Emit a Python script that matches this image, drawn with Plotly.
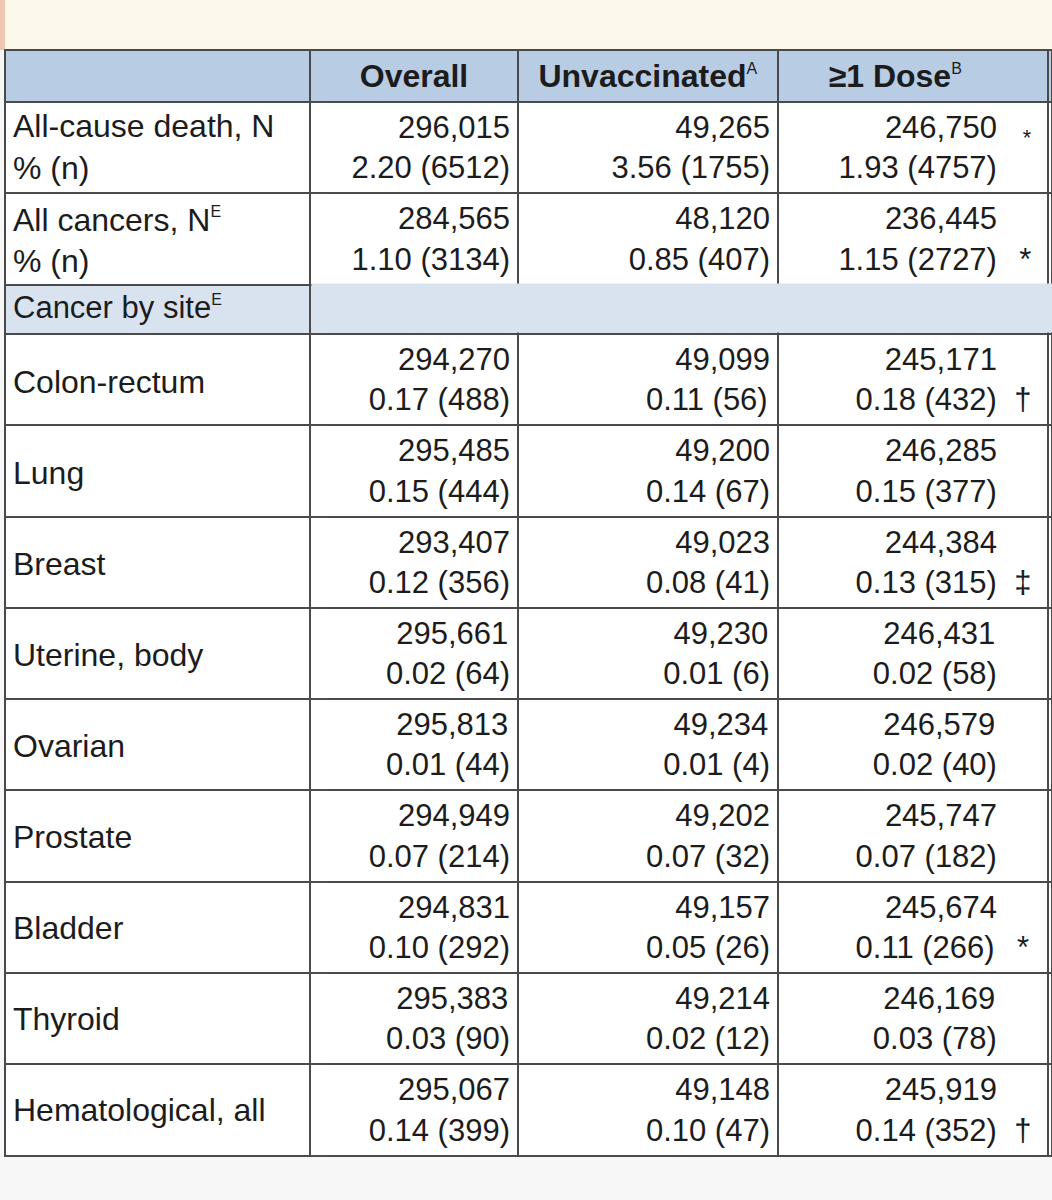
import plotly.graph_objects as go

columns = ["Overall", "Unvaccinated", "≥1 Dose"]
column_notes = ["", "A", "B"]

top_labels = ["All-cause death, N", "All cancers, N"]
top_label_notes = ["", "E"]
top_overall_N = [296015, 284565]
top_overall_pct = [2.20, 1.10]
top_overall_n = [6512, 3134]
top_unvax_N = [49265, 48120]
top_unvax_pct = [3.56, 0.85]
top_unvax_n = [1755, 407]
top_dose_N = [246750, 236445]
top_dose_pct = [1.93, 1.15]
top_dose_n = [4757, 2727]
top_marks_line1 = ["*", ""]
top_marks_line2 = ["", "*"]

section_label = "Cancer by site"
section_note = "E"

sites = ["Colon-rectum", "Lung", "Breast", "Uterine, body", "Ovarian",
         "Prostate", "Bladder", "Thyroid", "Hematological, all"]
overall_N = [294270, 295485, 293407, 295661, 295813, 294949, 294831, 295383, 295067]
overall_pct = [0.17, 0.15, 0.12, 0.02, 0.01, 0.07, 0.10, 0.03, 0.14]
overall_n = [488, 444, 356, 64, 44, 214, 292, 90, 399]
unvax_N = [49099, 49200, 49023, 49230, 49234, 49202, 49157, 49214, 49148]
unvax_pct = [0.11, 0.14, 0.08, 0.01, 0.01, 0.07, 0.05, 0.02, 0.10]
unvax_n = [56, 67, 41, 6, 4, 32, 26, 12, 47]
dose_N = [245171, 246285, 244384, 246431, 246579, 245747, 245674, 246169, 245919]
dose_pct = [0.18, 0.15, 0.13, 0.02, 0.02, 0.07, 0.11, 0.03, 0.14]
dose_n = [432, 377, 315, 58, 40, 182, 266, 78, 352]
site_marks = ["†", "", "‡", "", "", "", "*", "", "†"]

# ---- styling ----
W, H = 1052, 1200
FONT = "Liberation Sans, Arial, sans-serif"
TXT = "#1c1c1c"
LINE = "#4a4a4a"
HEAD_FILL = "#b8cce4"
SEC_FILL = "#d9e3f0"
CLEAR = "rgba(0,0,0,0)"
NB = "\u00a0"

TOP, HEAD_H, ROW_H, SEC_H = 50, 50, 91, 52
LABEL_SHIFT = 27
x0 = 5 / W
colw = [305, 208, 260, 270, 4]
sec_top = TOP + HEAD_H + 2 * ROW_H

# Arial / Liberation Sans advance widths (1/1000 em) for the padding maths
ADV = {**{d: 556 for d in "0123456789"}, ",": 278, ".": 278, " ": 278,
       "(": 333, ")": 333}


def note(s):
    # small superscript that does not make the row taller
    return f'<sup><span style="font-size:16px">{s}</span></sup>' if s else ""


def nowrap(s):
    # a <br> stops plotly's word-wrapping from splitting the markup
    return s + "<br>"


def hidden(s):
    return f'<span style="color:{CLEAR}">{s}</span>' if s else ""


def filler(d):
    # invisible glyphs whose width adds up to d (1/1000 em)
    best = (abs(d), "")
    for a in range(12):
        for b in range(5):
            for c in range(4):
                err = abs(d - (556 * a + 333 * b + 278 * c))
                if err < best[0]:
                    best = (err, "0" * a + "(" * b + "." * c)
    return hidden(best[1])


def two_lines(l1, l2, t1="", t2=""):
    # plotly stacks lines flush-left; pad the shorter one so both end flush-right
    w1 = sum(ADV[ch] for ch in l1)
    w2 = sum(ADV[ch] for ch in l2)
    if w1 < w2:
        l1 = filler(w2 - w1) + l1
    else:
        l2 = filler(w1 - w2) + l2
    return f"{l1}{t1}<br>{l2}{t2}"


def cell(N, pct, n):
    return two_lines(f"{N:,}", f"{pct:.2f} ({n})")


def tail(mark, sub=False):
    # same width whatever the marker, so numbers stay aligned
    if not mark:
        return NB * 5
    if mark == "*":
        if sub:
            return NB * 3 + "<sub>*</sub>" + NB
        return NB * 2 + "\u2006*" + NB
    return NB * 2 + mark + NB


def dose_cell(N, pct, n, m1, m2, sub1=False):
    return two_lines(f"{N:,}", f"{pct:.2f} ({n})", tail(m1, sub1), tail(m2))


def dom_top(px):
    return 1 - px / H


top_col1 = [f"{l}{note(s)}<br>% (n)" for l, s in zip(top_labels, top_label_notes)]
top_col2 = [cell(*v) for v in zip(top_overall_N, top_overall_pct, top_overall_n)]
top_col3 = [cell(*v) for v in zip(top_unvax_N, top_unvax_pct, top_unvax_n)]
top_col4 = [dose_cell(N, p, n, m1, m2, sub1=True)
            for N, p, n, m1, m2 in zip(top_dose_N, top_dose_pct, top_dose_n,
                                         top_marks_line1, top_marks_line2)]

site_col2 = [cell(*v) for v in zip(overall_N, overall_pct, overall_n)]
site_col3 = [cell(*v) for v in zip(unvax_N, unvax_pct, unvax_n)]
site_col4 = [dose_cell(N, p, n, "", m) for N, p, n, m in
             zip(dose_N, dose_pct, dose_n, site_marks)]

header_vals = [""] + [f"<b>{c}</b>{note(s)}" for c, s in zip(columns, column_notes)] + [""]
header_vals[3] += NB * 4
header_vals = [nowrap(v) if "<sup>" in v else v for v in header_vals]

align = ["left", "right", "right", "right", "right"]
cell_font = dict(family=FONT, size=31, color=TXT)
label_font = dict(family=FONT, size=32, color=TXT)
blank = [""] * len(sites)

fig = go.Figure()

# section row + site rows (labels are drawn by the overlay below)
fig.add_trace(go.Table(
    domain=dict(x=[x0, 1], y=[0, dom_top(sec_top)]),
    columnwidth=colw,
    header=dict(values=[nowrap(section_label + note(section_note)), "", "", "", ""],
                height=SEC_H, align="left", font=cell_font,
                fill=dict(color=SEC_FILL), line=dict(color=LINE, width=2)),
    cells=dict(values=[blank, site_col2, site_col3, site_col4, blank],
               height=ROW_H, align=align, font=cell_font,
               fill=dict(color="white"), line=dict(color=LINE, width=2))))

# header + all-cause / all-cancers rows (labels drawn by an overlay)
fig.add_trace(go.Table(
    domain=dict(x=[x0, 1], y=[0, dom_top(TOP)]),
    columnwidth=colw,
    header=dict(values=header_vals, height=HEAD_H,
                align=["left", "center", "center", "center", "center"],
                font=dict(family=FONT, size=32, color=TXT),
                fill=dict(color=HEAD_FILL), line=dict(color=LINE, width=2)),
    cells=dict(values=[["", ""], top_col2, top_col3, top_col4, ["", ""]],
               height=ROW_H, align=align, font=cell_font,
               fill=dict(color="white"), line=dict(color=LINE, width=2))))

# row labels of the top block
fig.add_trace(go.Table(
    domain=dict(x=[x0, 310 / W], y=[0, dom_top(TOP)]),
    columnwidth=[305],
    header=dict(values=[""], height=HEAD_H,
                fill=dict(color=CLEAR), line=dict(color=CLEAR, width=0)),
    cells=dict(values=[top_col1], height=ROW_H, align="left", font=label_font,
               fill=dict(color=CLEAR), line=dict(color=CLEAR, width=0))))

# site labels, set a little lower so they sit mid-row
fig.add_trace(go.Table(
    domain=dict(x=[x0, 310 / W], y=[0, dom_top(sec_top)]),
    columnwidth=[305],
    header=dict(values=[""], height=SEC_H + LABEL_SHIFT,
                fill=dict(color=CLEAR), line=dict(color=CLEAR, width=0)),
    cells=dict(values=[sites], height=ROW_H, align="left", font=label_font,
               fill=dict(color=CLEAR), line=dict(color=CLEAR, width=0))))

fig.update_layout(
    width=W, height=H,
    margin=dict(l=0, r=0, t=0, b=0),
    paper_bgcolor="#f7f7f7",
    font=dict(family=FONT, color=TXT),
    shapes=[
        dict(type="rect", xref="paper", yref="paper", x0=0, x1=1,
             y0=dom_top(TOP), y1=1, fillcolor="#fdf8ec", line=dict(width=0),
             layer="below"),
        dict(type="rect", xref="paper", yref="paper", x0=0, x1=5 / W,
             y0=dom_top(TOP), y1=1, fillcolor="#f0c6b0", line=dict(width=0),
             layer="below"),
        # the section row is one merged cell: paint over its inner rules
        dict(type="rect", xref="paper", yref="paper",
             x0=(5 + colw[0] + 1.5) / W, x1=1,
             y0=dom_top(sec_top + SEC_H - 1.5), y1=dom_top(sec_top + 1.5),
             fillcolor=SEC_FILL, line=dict(width=0), layer="above"),
    ],
)

fig.write_html("out.html", config={"displayModeBar": False},
               post_script="document.body.style.margin='0';")
